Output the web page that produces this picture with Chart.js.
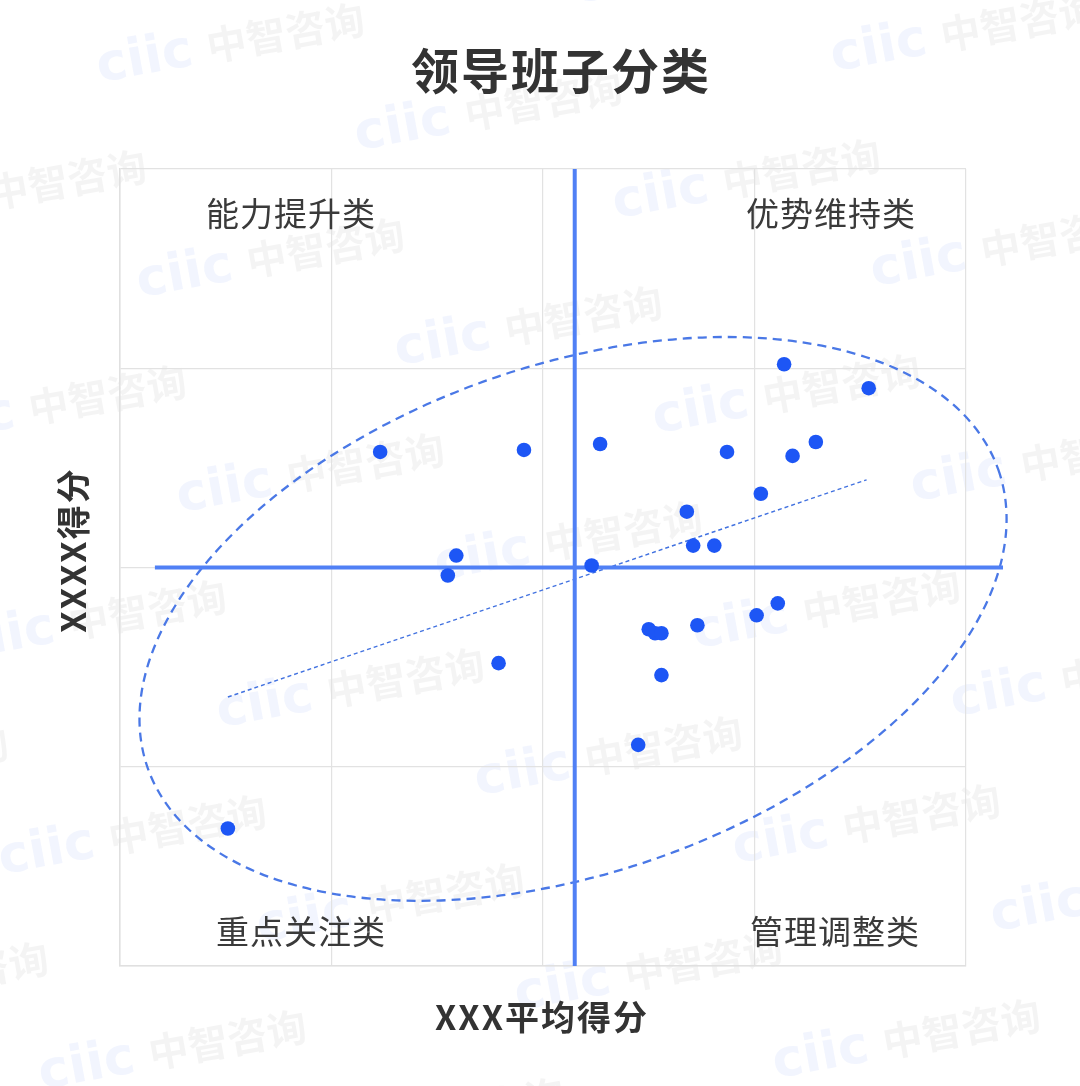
<!DOCTYPE html>
<html>
<head>
<meta charset="utf-8">
<script src="https://cdn.jsdelivr.net/npm/chart.js@4.4.0/dist/chart.umd.min.js"></script>
<style>
  html, body { margin: 0; padding: 0; background: #fff; }
  #wrap { width: 1080px; height: 1086px; position: relative; }
</style>
</head>
<body>
<div id="wrap"><canvas id="myChart"></canvas></div>
<script>
// values (axis units: 0..4 on both axes)
const chartTitle = '领导班子分类';
const xTitle = 'XXX平均得分';
const yTitle = 'XXXX得分';
const quadrantNames = ['能力提升类', '优势维持类', '重点关注类', '管理调整类'];

const xScores = [1.23, 1.91, 2.27, 3.14, 3.54, 2.87, 3.18, 3.29, 3.03, 2.68, 2.71, 2.81, 2.23,
                 1.59, 1.55, 2.50, 2.53, 2.56, 2.73, 3.01, 3.11, 2.56, 1.79, 2.45, 0.51];
const yScores = [2.58, 2.59, 2.62, 3.02, 2.90, 2.58, 2.56, 2.63, 2.37, 2.28, 2.11, 2.11, 2.01,
                 2.06, 1.96, 1.69, 1.67, 1.67, 1.71, 1.76, 1.82, 1.46, 1.52, 1.11, 0.69];

// quadrant split lines
const splitX = 2.15;
const splitY = 2.0;
const splitYFrom = 0.165;   // horizontal line starts a bit inside, runs past the right edge
const splitYTo = 4.175;

// dotted trend line end points
const trendX = [0.51, 3.53];
const trendY = [1.35, 2.44];

// dashed ellipse (centre in data units, radii in x units, angle in degrees)
const ellipse = { cx: 2.142, cy: 1.742, rx: 2.131, ry: 1.199, angle: -19.3 };

const FONT = '"Noto Sans CJK SC", "Noto Sans", sans-serif';

const points = xScores.map((x, i) => ({ x: x, y: yScores[i] }));

// watermark, background grid text
const watermarkPlugin = {
  id: 'watermark',
  beforeDraw(chart) {
    const ctx = chart.ctx;
    ctx.save();
    ctx.fillStyle = '#fff';
    ctx.fillRect(0, 0, chart.width, chart.height);
    const base = [515, 330], u = [258, 68], v = [40, 215];
    for (let i = -4; i <= 4; i++) {
      for (let j = -3; j <= 5; j++) {
        const cx = base[0] + i * u[0] + j * v[0];
        const cy = base[1] + i * u[1] + j * v[1];
        if (cx < -150 || cx > 1230 || cy < -60 || cy > 1150) continue;
        ctx.save();
        ctx.translate(cx, cy);
        ctx.rotate(-0.18);
        ctx.textBaseline = 'middle';
        ctx.textAlign = 'left';
        ctx.font = 'bold 52px "DejaVu Sans", sans-serif';
        ctx.fillStyle = 'rgba(80, 120, 240, 0.075)';
        ctx.fillText('ciic', -122, 0);
        ctx.font = 'bold 40px ' + FONT;
        ctx.fillStyle = 'rgba(0, 0, 0, 0.045)';
        ctx.fillText('中智咨询', -10, -2);
        ctx.restore();
      }
    }
    ctx.restore();
  }
};

// ellipse + texts
const overlayPlugin = {
  id: 'overlay',
  beforeDatasetsDraw(chart) {
    const ctx = chart.ctx;
    const xs = chart.scales.x, ys = chart.scales.y;
    const unit = xs.getPixelForValue(1) - xs.getPixelForValue(0);
    ctx.save();
    ctx.beginPath();
    ctx.ellipse(xs.getPixelForValue(ellipse.cx), ys.getPixelForValue(ellipse.cy),
      ellipse.rx * unit, ellipse.ry * unit, ellipse.angle * Math.PI / 180, 0, Math.PI * 2);
    ctx.setLineDash([9, 6]);
    ctx.lineWidth = 2.3;
    ctx.strokeStyle = '#4a78e6';
    ctx.stroke();
    ctx.restore();
  },
  afterDraw(chart) {
    const ctx = chart.ctx;
    ctx.save();
    ctx.fillStyle = '#333';
    ctx.textAlign = 'center';
    ctx.textBaseline = 'middle';

    // title
    ctx.font = 'bold 48px ' + FONT;
    ctx.letterSpacing = '2px';
    ctx.fillText(chartTitle, 561, 71);

    // axis titles
    ctx.font = 'bold 34px ' + FONT;
    ctx.letterSpacing = '2px';
    ctx.fillText(xTitle, 542, 1017);
    ctx.save();
    ctx.translate(73, 550);
    ctx.rotate(-Math.PI / 2);
    ctx.fillText(yTitle, 0, 0);
    ctx.restore();

    // quadrant names
    ctx.font = '33px ' + FONT;
    ctx.letterSpacing = '1px';
    ctx.fillStyle = '#3a3a3a';
    ctx.fillText(quadrantNames[0], 291, 213);
    ctx.fillText(quadrantNames[1], 831, 213);
    ctx.fillText(quadrantNames[2], 301, 931);
    ctx.fillText(quadrantNames[3], 835, 931);
    ctx.restore();
  }
};

document.addEventListener('DOMContentLoaded', () => {
  const ctx = document.getElementById('myChart').getContext('2d');
  new Chart(ctx, {
    type: 'scatter',
    data: {
      datasets: [
        {
          label: '领导班子',
          data: points,
          backgroundColor: '#1d56f5',
          borderWidth: 0,
          pointRadius: 7.3,
          pointHoverRadius: 7.3,
          order: 0
        },
        {
          label: 'trend',
          type: 'line',
          data: trendX.map((x, i) => ({ x: x, y: trendY[i] })),
          borderColor: '#4272e0',
          borderWidth: 1.4,
          borderDash: [4, 3],
          pointRadius: 0,
          order: 2
        },
        {
          label: 'splitV',
          type: 'line',
          data: [{ x: splitX, y: 0 }, { x: splitX, y: 4 }],
          borderColor: '#5080f5',
          borderWidth: 4,
          pointRadius: 0,
          order: 1
        },
        {
          label: 'splitH',
          type: 'line',
          data: [{ x: splitYFrom, y: splitY }, { x: splitYTo, y: splitY }],
          borderColor: '#5080f5',
          borderWidth: 4,
          pointRadius: 0,
          clip: false,
          order: 1
        }
      ]
    },
    options: {
      responsive: true,
      maintainAspectRatio: false,
      animation: false,
      layout: { padding: { left: 120, right: 114, top: 169, bottom: 120 } },
      plugins: {
        legend: { display: false },
        tooltip: { enabled: false },
        title: { display: false }
      },
      scales: {
        x: {
          type: 'linear',
          min: 0, max: 4,
          ticks: { display: false, stepSize: 1 },
          grid: { color: '#e2e2e2', drawTicks: false, lineWidth: 1.2 },
          border: { color: '#e0e0e0', width: 1.5 }
        },
        y: {
          type: 'linear',
          min: 0, max: 4,
          ticks: { display: false, stepSize: 1 },
          grid: { color: '#e2e2e2', drawTicks: false, lineWidth: 1.2 },
          border: { color: '#e0e0e0', width: 1.5 }
        }
      }
    },
    plugins: [watermarkPlugin, overlayPlugin]
  });
});
</script>
</body>
</html>
